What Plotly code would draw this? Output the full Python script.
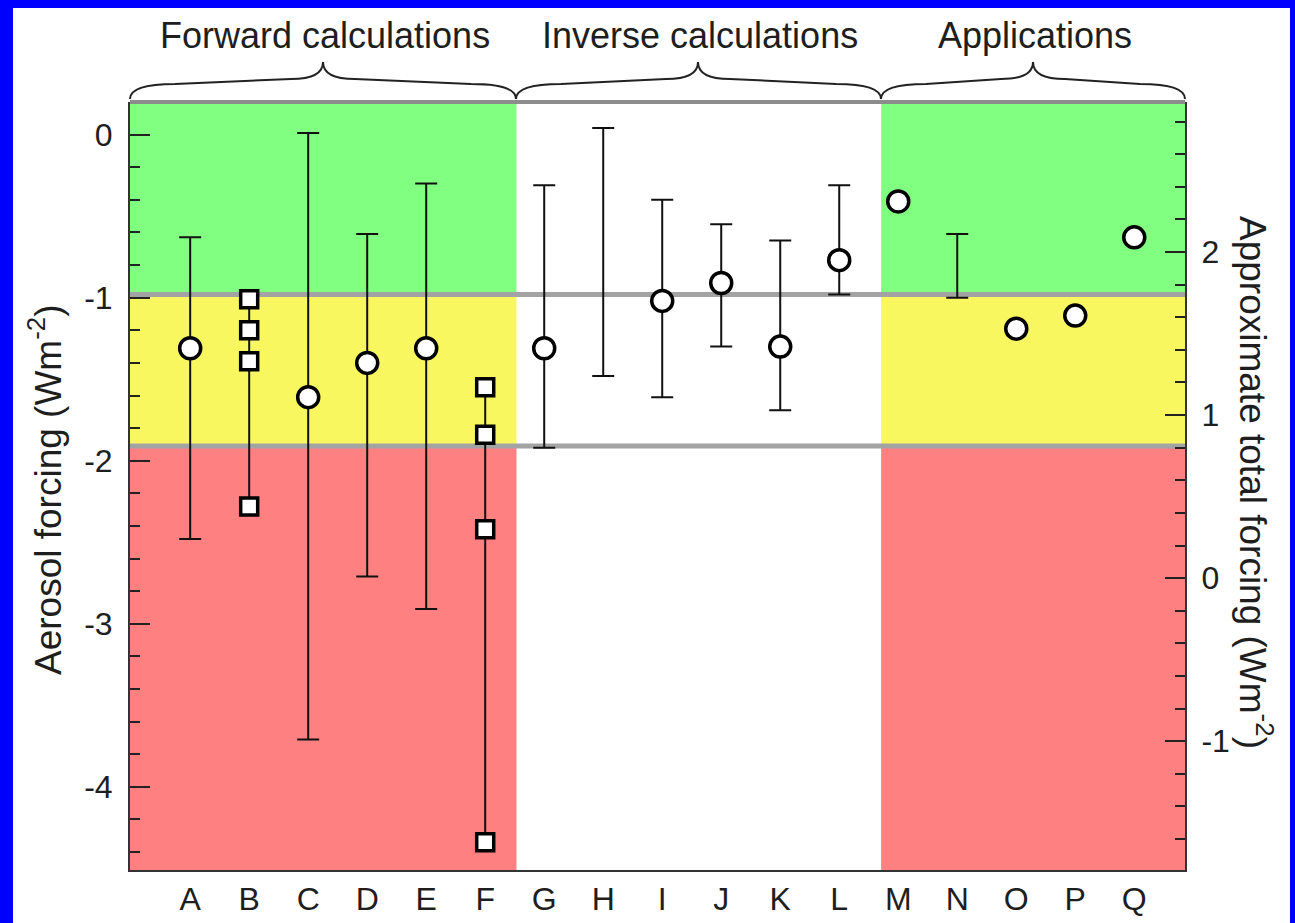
import plotly.graph_objects as go

# ---------------- data ----------------
categories = list("ABCDEFGHIJKLMNOPQ")

# central estimates (open circles)
central_cats = ["A", "C", "D", "E", "G", "I", "J", "K", "L", "M", "O", "P", "Q"]
central_vals = [-1.31, -1.61, -1.40, -1.31, -1.31, -1.02, -0.91, -1.30, -0.77,
                -0.41, -1.19, -1.11, -0.63]

# uncertainty ranges (error bars)
range_cats = ["A", "C", "D", "E", "G", "H", "I", "J", "K", "L", "N"]
range_upper = [-0.63, 0.01, -0.61, -0.30, -0.31, 0.04, -0.40, -0.55, -0.65, -0.31, -0.61]
range_lower = [-2.48, -3.71, -2.71, -2.91, -1.92, -1.48, -1.61, -1.30, -1.69, -0.98, -1.00]

# multi-estimate studies (open squares joined by a line)
b_vals = [-1.01, -1.20, -1.39, -2.28]
f_vals = [-1.55, -1.84, -2.42, -4.34]

group_labels = ["Forward calculations", "Inverse calculations", "Applications"]
left_ticks = [0, -1, -2, -3, -4]
right_ticks = [2, 1, 0, -1]
band_edges = [-0.98, -1.91]        # aerosol forcing thresholds between colour bands
total_offset = 2.72                # approximate total forcing = aerosol forcing + offset

# ---------------- geometry / style ----------------
W, H = 1295, 923
ML, MR, MT, MB = 130, 110, 102, 53
y_lo, y_hi = -4.51, 0.20
x_lo, x_hi = -1.02, 16.86
grp_edges = [5.53, 11.71]

FONT = "Liberation Sans, Arial, Helvetica, sans-serif"
TXT = "#1e1e1e"
GREEN = "rgb(128,255,128)"
YELLOW = "rgb(249,247,96)"
RED = "rgb(255,128,128)"


def px_x(p):
    return (p - ML) / (W - ML - MR)


def px_y(p):
    return (H - MB - p) / (H - MT - MB)


fig = go.Figure()

# error-bar ranges
fig.add_trace(go.Scatter(
    x=range_cats, y=range_upper, mode="markers",
    marker=dict(size=1, color="rgba(0,0,0,0)"),
    error_y=dict(type="data", symmetric=False,
                 array=[0] * len(range_upper),
                 arrayminus=[u - l for u, l in zip(range_upper, range_lower)],
                 color="#111", thickness=2, width=11),
    showlegend=False, hoverinfo="skip"))

# square series B and F
for cat, vals in (("B", b_vals), ("F", f_vals)):
    fig.add_trace(go.Scatter(
        x=[cat] * len(vals), y=vals, mode="lines+markers",
        line=dict(color="#111", width=2),
        marker=dict(symbol="square", size=17, color="white",
                    line=dict(color="black", width=3.5)),
        showlegend=False))

# circles
fig.add_trace(go.Scatter(
    x=central_cats, y=central_vals, mode="markers",
    marker=dict(symbol="circle", size=21, color="white",
                line=dict(color="black", width=3.5)),
    showlegend=False))

# dummy trace for right axis
fig.add_trace(go.Scatter(x=[categories[0]], y=[None], yaxis="y2",
                         mode="markers", showlegend=False, hoverinfo="skip"))

shapes = []
# white page inside blue frame
shapes.append(dict(type="rect", xref="paper", yref="paper",
                   x0=px_x(13), x1=px_x(1290), y0=px_y(935), y1=px_y(8),
                   fillcolor="white", line=dict(width=0), layer="below"))
# colour bands (forward + applications)
for xa, xb in ((x_lo, grp_edges[0]), (grp_edges[1], x_hi)):
    for ya, yb, col in ((band_edges[0], y_hi, GREEN),
                        (band_edges[1], band_edges[0], YELLOW),
                        (y_lo, band_edges[1], RED)):
        shapes.append(dict(type="rect", xref="x", yref="y", x0=xa, x1=xb,
                           y0=ya, y1=yb, fillcolor=col, line=dict(width=0),
                           layer="below"))
# grey threshold lines
for yv in band_edges:
    shapes.append(dict(type="line", xref="x", yref="y", x0=x_lo, x1=x_hi,
                       y0=yv, y1=yv, line=dict(color="#a3a3a3", width=5),
                       layer="below"))
# top border
shapes.append(dict(type="line", xref="paper", yref="paper", x0=0, x1=1,
                   y0=1, y1=1, line=dict(color="#8c8c8c", width=4), layer="above"))

# braces
yb, ym, yt = px_y(99), px_y(79), px_y(62)
brace_spans = [(ML, 516, 323), (516, 881, 698), (881, W - MR, 1033)]
for a, b, c in brace_spans:
    x0, x1, xc = px_x(a), px_x(b), px_x(c)
    d1 = px_x(ML + 45) - px_x(ML)
    d2 = px_x(ML + 32) - px_x(ML)
    ym1 = px_y(84)
    path = (f"M {x0},{yb} Q {x0},{ym1} {x0 + d1},{ym1} "
            f"L {xc - d2},{ym} Q {xc},{ym} {xc},{yt} "
            f"Q {xc},{ym} {xc + d2},{ym} L {x1 - d1},{ym1} "
            f"Q {x1},{ym1} {x1},{yb}")
    shapes.append(dict(type="path", xref="paper", yref="paper", path=path,
                       line=dict(color="#222", width=2), layer="above"))

annotations = []
for lab, (a, b, c) in zip(group_labels, brace_spans):
    annotations.append(dict(text=lab, xref="paper", yref="paper",
                            x=px_x(c + 2), y=px_y(35), xanchor="center",
                            yanchor="middle", showarrow=False,
                            font=dict(family=FONT, size=36, color=TXT)))
annotations.append(dict(text="Aerosol forcing (Wm<sup>-2</sup>)", xref="paper",
                        yref="paper", x=px_x(46), y=px_y(490), textangle=-90,
                        xanchor="center", yanchor="middle", showarrow=False,
                        font=dict(family=FONT, size=37, color=TXT)))
annotations.append(dict(text="Approximate total forcing (Wm<sup>-2</sup>)",
                        xref="paper", yref="paper", x=px_x(1256), y=px_y(482),
                        textangle=90, xanchor="center", yanchor="middle",
                        showarrow=False,
                        font=dict(family=FONT, size=37, color=TXT)))

tick_style = dict(ticks="inside", ticklen=20, tickwidth=2, tickcolor="#222",
                  showgrid=False, zeroline=False, showline=True,
                  linecolor="#333", linewidth=2, automargin=False,
                  tickfont=dict(family=FONT, size=32, color=TXT),
                  minor=dict(dtick=0.2, tick0=0, ticks="inside", ticklen=10,
                             tickwidth=2, tickcolor="#222", showgrid=False))

fig.update_layout(
    width=W, height=H,
    margin=dict(l=ML, r=MR, t=MT, b=MB, pad=0),
    paper_bgcolor="#0000ff", plot_bgcolor="white",
    showlegend=False,
    xaxis=dict(type="category", categoryorder="array", categoryarray=categories,
               range=[x_lo, x_hi], showgrid=False, zeroline=False,
               showline=True, linecolor="#333", linewidth=2, ticks="",
               automargin=False,
               tickfont=dict(family=FONT, size=32, color=TXT)),
    yaxis=dict(range=[y_lo, y_hi], tickvals=left_ticks,
               ticktext=[str(v) for v in left_ticks], ticklabelstandoff=9,
               **tick_style),
    yaxis2=dict(overlaying="y", side="right",
                range=[y_lo + total_offset, y_hi + total_offset],
                tickvals=right_ticks, ticktext=[str(v) for v in right_ticks],
                ticklabelstandoff=8, **tick_style),
    shapes=shapes, annotations=annotations,
)

fig.write_html("out.html",
               config={"displayModeBar": False},
               post_script="document.body.style.margin='0';"
                           "document.body.style.background='#0000ff';")
